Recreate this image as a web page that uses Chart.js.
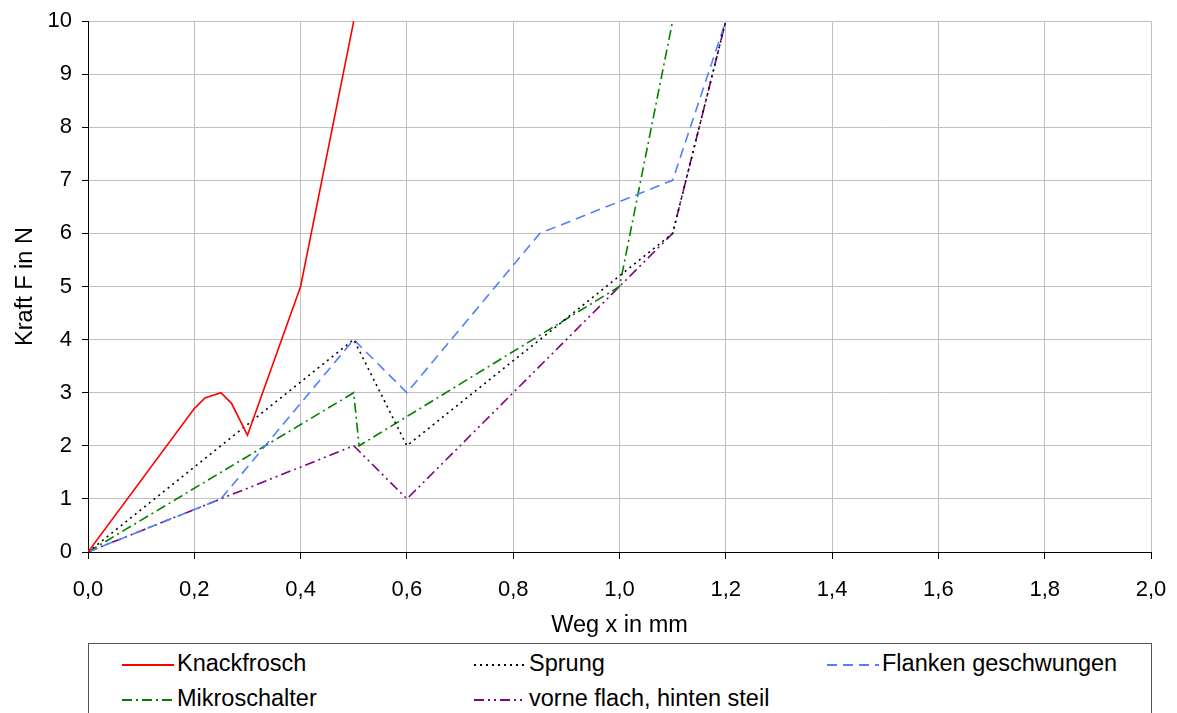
<!DOCTYPE html>
<html>
<head>
<meta charset="utf-8">
<script src="https://cdn.jsdelivr.net/npm/chart.js@4.4.1/dist/chart.umd.min.js"></script>
<style>
  body { margin: 0; background: #fff; overflow: hidden; font-family: "Liberation Sans", Arial, sans-serif; }
  #wrap { position: relative; width: 1177px; height: 713px; }
  #chartBox { position: absolute; left: 0; top: 0; width: 1177px; height: 640px; }
  #legende { position: absolute; left: 88px; top: 643px; width: 1064px; height: 90px; border: 1px solid #555; box-sizing: border-box; }
  .item { position: absolute; font-size: 23.5px; color: #000; white-space: nowrap; line-height: 26px; }
  .item svg { vertical-align: middle; margin-right: 3px; }
</style>
</head>
<body>
<div id="wrap">
  <div id="chartBox"><canvas id="grafico"></canvas></div>
  <div id="legende"></div>
</div>
<script>
// Messwerte (Weg x in mm, Kraft F in N)
const knackX = [0, 0.2, 0.22, 0.25, 0.27, 0.3, 0.4, 0.5];
const knackY = [0, 2.7, 2.9, 3.0, 2.8, 2.2, 5, 10];

const sprungX = [0, 0.5, 0.6, 1.1, 1.2];
const sprungY = [0, 4, 2, 6, 10];

const flankenX = [0, 0.25, 0.5, 0.6, 0.85, 1.1, 1.2];
const flankenY = [0, 1, 4, 3, 6, 7, 10];

const mikroX = [0, 0.5, 0.51, 1.0, 1.1];
const mikroY = [0, 3, 2, 5, 10];

const vorneX = [0, 0.25, 0.5, 0.6, 1.0, 1.1, 1.2];
const vorneY = [0, 1, 2, 1, 5, 6, 10];

const namen = ["Knackfrosch", "Sprung", "Flanken geschwungen", "Mikroschalter", "vorne flach, hinten steil"];
const farben = ["#ff0000", "#000000", "#4d80ff", "#008000", "#800080"];
const striche = [[], [2, 4], [10, 6], [10, 4, 2, 4], [10, 4, 2, 4, 2, 4]];

const xTicks = [0, 0.2, 0.4, 0.6, 0.8, 1.0, 1.2, 1.4, 1.6, 1.8, 2.0];
const yTicks = [0, 1, 2, 3, 4, 5, 6, 7, 8, 9, 10];

const reihen = [
  [knackX, knackY],
  [sprungX, sprungY],
  [flankenX, flankenY],
  [mikroX, mikroY],
  [vorneX, vorneY],
];

const datasets = reihen.map((r, i) => ({
  label: namen[i],
  data: r[0].map((x, j) => ({ x: x, y: r[1][j] })),
  borderColor: farben[i],
  borderDash: striche[i],
  borderWidth: 1.6,
  pointRadius: 0,
  showLine: true,
  fill: false,
  tension: 0,
}));

const fonte = { family: "'Liberation Sans', Arial, sans-serif", size: 22 };
const titelFonte = { family: "'Liberation Sans', Arial, sans-serif", size: 23.5 };

new Chart(document.getElementById("grafico"), {
  type: "scatter",
  data: { datasets: datasets },
  options: {
    responsive: true,
    maintainAspectRatio: false,
    animation: false,
    layout: { padding: { left: 0, top: 21, right: 26, bottom: 0 } },
    plugins: { legend: { display: false }, tooltip: { enabled: false } },
    scales: {
      x: {
        type: "linear",
        min: 0,
        max: 2,
        afterBuildTicks: (s) => { s.ticks = xTicks.map((v) => ({ value: v })); },
        afterFit: (s) => { s.height = 88; s.paddingRight = 0; s.paddingLeft = 0; },
        ticks: {
          color: "#000",
          font: fonte,
          padding: 18,
          maxRotation: 0,
          callback: (v) => v.toFixed(1).replace(".", ","),
        },
        grid: { color: "#c0c0c0", tickColor: "#000", tickLength: 7, lineWidth: 1 },
        border: { color: "#000", width: 1 },
        title: { display: true, text: "Weg x in mm", color: "#000", font: titelFonte, padding: { top: 0, bottom: 0 } },
      },
      y: {
        type: "linear",
        min: 0,
        max: 10,
        afterBuildTicks: (s) => { s.ticks = yTicks.map((v) => ({ value: v })); },
        afterFit: (s) => { s.width = 88; s.paddingTop = 0; s.paddingBottom = 0; },
        ticks: { color: "#000", font: fonte, padding: 10 },
        grid: { color: "#c0c0c0", tickColor: "#000", tickLength: 6, lineWidth: 1 },
        border: { color: "#000", width: 1 },
        title: { display: true, text: "Kraft F in N", color: "#000", font: titelFonte, padding: { top: 11, bottom: 4 } },
      },
    },
  },
});

// Legende unten, 3 Spalten
const legende = document.getElementById("legende");
const spalten = [33, 385, 738];
const zeilen = [6, 41];
namen.forEach((n, i) => {
  const div = document.createElement("div");
  div.className = "item";
  div.style.left = spalten[i % 3] + "px";
  div.style.top = zeilen[Math.floor(i / 3)] + "px";
  const dash = striche[i].length ? striche[i].join(" ") : "none";
  div.innerHTML =
    '<svg width="52" height="6"><line x1="0" y1="3" x2="52" y2="3" stroke="' + farben[i] +
    '" stroke-width="2" stroke-dasharray="' + dash + '"/></svg>' + n;
  legende.appendChild(div);
});
</script>
</body>
</html>
